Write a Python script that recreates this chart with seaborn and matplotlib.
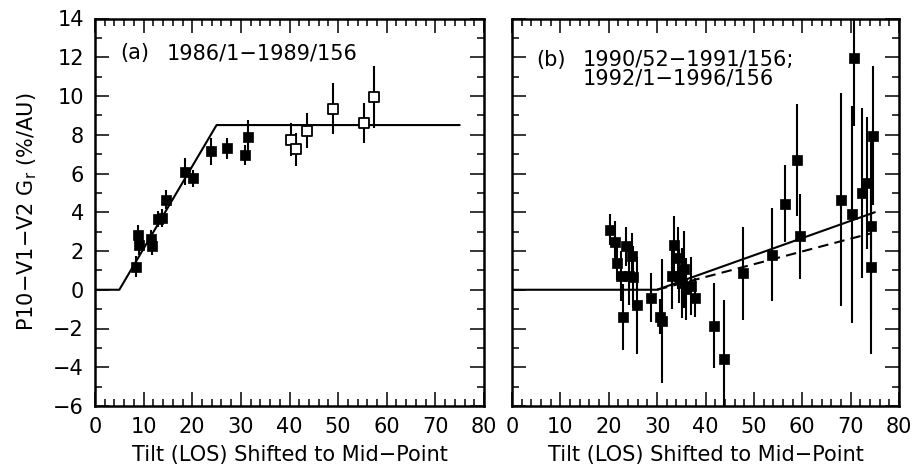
import matplotlib
matplotlib.use("Agg")
import matplotlib.pyplot as plt
import seaborn as sns
import pandas as pd
from matplotlib.ticker import MultipleLocator

# ---------------- data ----------------
# Panel (a): filled squares
a_fill_x = [8.4, 8.9, 9.1, 11.5, 11.7, 13.0, 13.7, 14.6, 18.5, 20.2, 23.8, 27.1, 30.9, 31.5]
a_fill_y = [1.2, 2.85, 2.3, 2.6, 2.25, 3.65, 3.7, 4.65, 6.1, 5.75, 7.15, 7.3, 6.95, 7.9]
a_fill_err = [0.55, 0.5, 0.5, 0.5, 0.45, 0.4, 0.45, 0.5, 0.7, 0.45, 0.7, 0.55, 0.5, 0.85]
# Panel (a): open squares
a_open_x = [40.4, 41.3, 43.5, 48.9, 55.3, 57.3]
a_open_y = [7.75, 7.25, 8.2, 9.35, 8.6, 9.95]
a_open_err = [0.85, 0.85, 0.9, 1.3, 1.05, 1.6]
# Panel (a): model
a_model_x = [0, 5, 25, 75]
a_model_y = [0, 0, 8.5, 8.5]

# Panel (b): filled squares
b_x = [20.2, 21.2, 21.8, 22.6, 23.0, 23.6, 24.1, 24.9, 25.0, 25.9, 28.7, 30.5, 31.1,
       33.1, 33.5, 34.3, 34.6, 35.1, 35.6, 35.9, 36.9, 37.9, 41.8, 43.9, 47.8, 53.7,
       56.5, 59.0, 59.5, 68.1, 70.3, 70.6, 72.3, 73.3, 74.6, 74.3, 74.3]
b_y = [3.1, 2.45, 1.4, 0.7, -1.4, 2.25, 0.7, 1.75, 0.65, -0.8, -0.4, -1.4, -1.6,
       0.7, 2.3, 1.65, 0.7, 0.35, 1.05, 0.05, 0.2, -0.4, -1.85, -3.55, 0.85, 1.8,
       4.45, 6.7, 2.75, 4.65, 3.9, 11.95, 5.0, 5.5, 7.95, 3.3, 1.2]
b_err = [0.8, 1.1, 0.9, 1.3, 1.7, 1.0, 1.5, 1.2, 1.6, 2.5, 1.25, 0.9, 3.2,
         1.7, 1.5, 1.6, 1.4, 1.8, 2.0, 1.6, 1.5, 1.0, 2.2, 3.0, 2.4, 2.4,
         2.0, 2.9, 2.2, 5.5, 5.6, 3.5, 4.4, 3.4, 3.6, 4.8, 4.5]
# Panel (b): models
b_solid_x = [0, 30, 75]
b_solid_y = [0, 0, 4.0]
b_dash_x = [30, 74]
b_dash_y = [0, 2.9]

x_ticks = [0, 10, 20, 30, 40, 50, 60, 70, 80]
y_ticks = [-6, -4, -2, 0, 2, 4, 6, 8, 10, 12, 14]

# ---------------- style ----------------
sns.set_style("ticks")
plt.rcParams['font.family'] = ['DejaVu Sans']
plt.rcParams['mathtext.default'] = 'regular'
plt.rcParams['text.color'] = 'black'
plt.rcParams['axes.labelcolor'] = 'black'
plt.rcParams['xtick.color'] = 'black'
plt.rcParams['ytick.color'] = 'black'

W, H = 916, 468
fig = plt.figure(figsize=(W / 100, H / 100), dpi=100)
ax_a = fig.add_axes([95 / W, 1 - 406 / H, 389 / W, 387.5 / H])
ax_b = fig.add_axes([512 / W, 1 - 406 / H, 387 / W, 387.5 / H])

FS = 15
k = 'black'

def style(ax, show_y):
    ax.set_xlim(0, 80)
    ax.set_ylim(-6, 14)
    ax.set_xticks(x_ticks)
    ax.set_yticks(y_ticks)
    ax.xaxis.set_minor_locator(MultipleLocator(2))
    ax.yaxis.set_minor_locator(MultipleLocator(1))
    ax.tick_params(which='both', direction='in', top=True, right=True,
                   bottom=True, left=True, colors=k, labelcolor=k, labelsize=FS)
    ax.tick_params(which='major', length=10, width=1.1, pad=8)
    ax.tick_params(which='minor', length=5, width=1.1)
    ax.tick_params(axis='y', labelleft=show_y)
    for s in ax.spines.values():
        s.set_visible(True)
        s.set_linewidth(1.8)
        s.set_color(k)
    ax.set_xlabel("Tilt (LOS) Shifted to Mid\u2212Point", fontsize=FS, labelpad=6, color=k)
    ax.set_ylabel("")

# ---- panel a ----
df_am = pd.DataFrame({"x": a_model_x, "y": a_model_y})
sns.lineplot(data=df_am, x="x", y="y", ax=ax_a, color=k, lw=1.5, sort=False, estimator=None, zorder=2)
ax_a.errorbar(a_fill_x, a_fill_y, yerr=a_fill_err, fmt='none', ecolor=k, elinewidth=1.5, capsize=0, zorder=3)
ax_a.errorbar(a_open_x, a_open_y, yerr=a_open_err, fmt='none', ecolor=k, elinewidth=1.5, capsize=0, zorder=3)
df_af = pd.DataFrame({"x": a_fill_x, "y": a_fill_y})
sns.scatterplot(data=df_af, x="x", y="y", ax=ax_a, marker='s', s=55, color=k, edgecolor=k, linewidth=0.5, zorder=4)
df_ao = pd.DataFrame({"x": a_open_x, "y": a_open_y})
sns.scatterplot(data=df_ao, x="x", y="y", ax=ax_a, marker='s', s=58, facecolor='white', edgecolor=k, linewidth=1.3, zorder=4)
style(ax_a, True)
ax_a.set_ylabel("P10\u2212V1\u2212V2 G$_r$ (%/AU)", fontsize=FS, labelpad=10, color=k)
ax_a.text(5.1, 12.2, "(a)", fontsize=FS, va='center', ha='left')
ax_a.text(14.7, 12.2, "1986/1\u22121989/156", fontsize=FS, va='center', ha='left')

# ---- panel b ----
df_bs = pd.DataFrame({"x": b_solid_x, "y": b_solid_y})
sns.lineplot(data=df_bs, x="x", y="y", ax=ax_b, color=k, lw=1.5, sort=False, estimator=None, zorder=2)
df_bd = pd.DataFrame({"x": b_dash_x, "y": b_dash_y})
sns.lineplot(data=df_bd, x="x", y="y", ax=ax_b, color=k, lw=1.5, sort=False, estimator=None,
             dashes=False, zorder=2).lines[-1].set_dashes((5, 3))
ax_b.errorbar(b_x, b_y, yerr=b_err, fmt='none', ecolor=k, elinewidth=1.5, capsize=0, zorder=3)
df_b = pd.DataFrame({"x": b_x, "y": b_y})
sns.scatterplot(data=df_b, x="x", y="y", ax=ax_b, marker='s', s=55, color=k, edgecolor=k, linewidth=0.5, zorder=4)
style(ax_b, False)
ax_b.text(5.1, 11.85, "(b)", fontsize=FS, va='center', ha='left')
ax_b.text(14.7, 11.85, "1990/52\u22121991/156;", fontsize=FS, va='center', ha='left')
ax_b.text(14.7, 10.9, "1992/1\u22121996/156", fontsize=FS, va='center', ha='left')

fig.savefig("out.png", dpi=100)
